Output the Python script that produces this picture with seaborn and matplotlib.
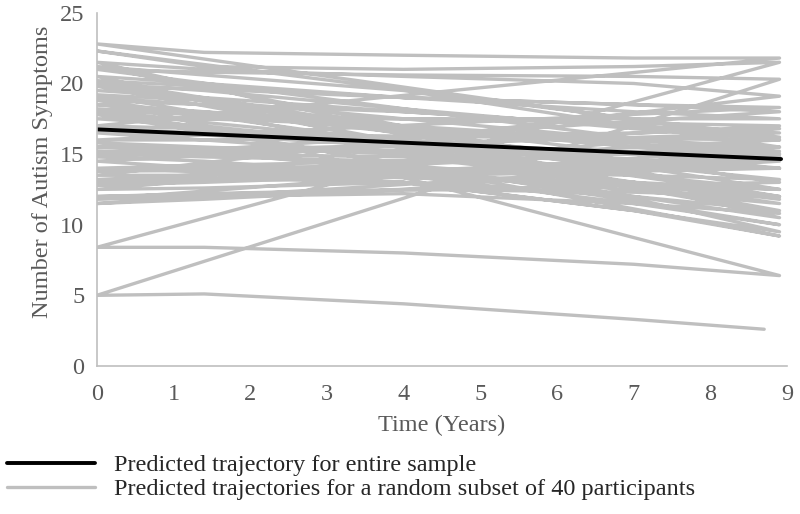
import numpy as np
import pandas as pd
import matplotlib
matplotlib.use("Agg")
import matplotlib.pyplot as plt
import seaborn as sns

# visit years and predicted symptoms for each participant (one value per participant)
visit_years = [0, 1.4, 4.0, 7.0, 8.9]
last_year = [8.9] * 39 + [8.7]

visit1 = [19.5, 15.0, 13.0, 18.5, 12.0, 20.0, 16.5, 14.0, 22.8, 17.0,
          11.5, 15.5, 21.5, 13.5, 18.0, 14.5, 20.5, 16.0, 12.5, 19.8,
          17.5, 15.8, 13.8, 18.8, 22.3, 8.4, 19.0, 16.8, 12.8, 20.2,
          14.8, 17.8, 11.8, 19.2, 15.2, 21.2, 13.2, 18.2, 21.0, 5.0]
visit2 = [19.0, 14.8, 13.2, 18.0, 12.2, 19.5, 16.0, 14.2, 22.2, 16.8,
          11.8, 15.2, 21.0, 13.5, 17.8, 14.0, 20.0, 16.0, 12.6, 19.6,
          17.0, 15.5, 14.0, 18.5, 21.2, 8.4, 18.5, 16.5, 13.0, 19.8,
          14.5, 17.5, 12.0, 18.8, 15.0, 20.6, 13.3, 18.0, 20.8, 5.1]
visit3 = [18.0, 14.5, 13.8, 16.5, 12.5, 18.2, 15.0, 14.5, 22.0, 16.0,
          12.5, 14.0, 20.5, 13.8, 17.5, 13.0, 19.0, 16.2, 13.0, 19.0,
          15.5, 15.0, 14.2, 18.0, 21.0, 8.0, 17.0, 15.8, 13.5, 19.0,
          13.5, 17.0, 12.2, 17.5, 14.8, 19.5, 13.0, 17.0, 20.6, 4.4]
visit4 = [17.0, 14.2, 14.5, 14.5, 12.3, 16.8, 13.5, 15.5, 21.8, 15.0,
          14.0, 12.0, 20.0, 13.5, 17.2, 11.0, 18.5, 16.5, 12.0, 18.0,
          13.0, 14.5, 13.0, 17.0, 21.2, 7.2, 15.0, 15.0, 13.0, 18.5,
          11.5, 16.0, 11.5, 16.0, 13.0, 17.0, 11.0, 15.5, 20.5, 3.3]
visit5 = [16.5, 14.0, 15.0, 13.0, 12.0, 16.0, 12.5, 16.0, 21.8, 14.5,
          15.0, 10.5, 19.1, 13.2, 17.0, 9.5, 18.3, 16.8, 11.0, 17.5,
          11.5, 14.0, 12.0, 16.2, 21.5, 6.4, 14.0, 14.6, 12.5, 18.0,
          10.0, 15.5, 10.8, 15.2, 11.8, 15.5, 9.2, 14.8, 20.3, 2.6]

# whole-sample trajectory
sample_years = [0, 8.92]
sample_symptoms = [16.75, 14.65]

rows = []
for i in range(len(visit1)):
    years = visit_years[:-1] + [last_year[i]]
    vals = [visit1[i], visit2[i], visit3[i], visit4[i], visit5[i]]
    for yr, v in zip(years, vals):
        rows.append({"participant": i, "year": yr, "symptoms": v})
df = pd.DataFrame(rows)

sns.set_style("white")
plt.rcParams['font.family'] = ['Liberation Serif', 'DejaVu Serif']

fig = plt.figure(figsize=(8, 5.14), dpi=100)
ax = fig.add_axes([0.121, 0.288, 0.863, 0.687])

sns.lineplot(data=df, x="year", y="symptoms", sort=False, estimator=None,
             color="#BFBFBF", linewidth=2.4, ax=ax,
             label="Predicted trajectories for a random subset of 40 participants")
sns.lineplot(x=sample_years, y=sample_symptoms, color="black", linewidth=2.8, ax=ax,
             label="Predicted trajectory for entire sample")

ax.set_xlim(0, 9)
ax.set_ylim(0, 25)
ax.set_xticks(range(0, 10))
ax.set_yticks(range(0, 26, 5))
ax.tick_params(length=0, labelsize=17.5, labelcolor="#595959")
ax.tick_params(axis="x", pad=13)
ax.tick_params(axis="y", pad=9)
ax.set_xlabel("Time (Years)", fontsize=17.5, color="#595959", labelpad=7)
ax.set_ylabel("Number of Autism Symptoms", fontsize=17.5, color="#595959", labelpad=5)
ax.yaxis.set_label_coords(-0.064, 0.55)

for side in ["top", "right"]:
    ax.spines[side].set_visible(False)
for side in ["left", "bottom"]:
    ax.spines[side].set_color("#BFBFBF")
    ax.spines[side].set_linewidth(1.2)

handles, labels = ax.get_legend_handles_labels()
ax.get_legend().remove()
fig.legend(handles[::-1], labels[::-1], loc="upper left", bbox_to_anchor=(0.0, 0.13),
           frameon=False, fontsize=17.5, handlelength=3.6, handletextpad=0.8,
           labelspacing=0.08, borderpad=0, borderaxespad=0.3)

fig.savefig("out.png", dpi=100)
